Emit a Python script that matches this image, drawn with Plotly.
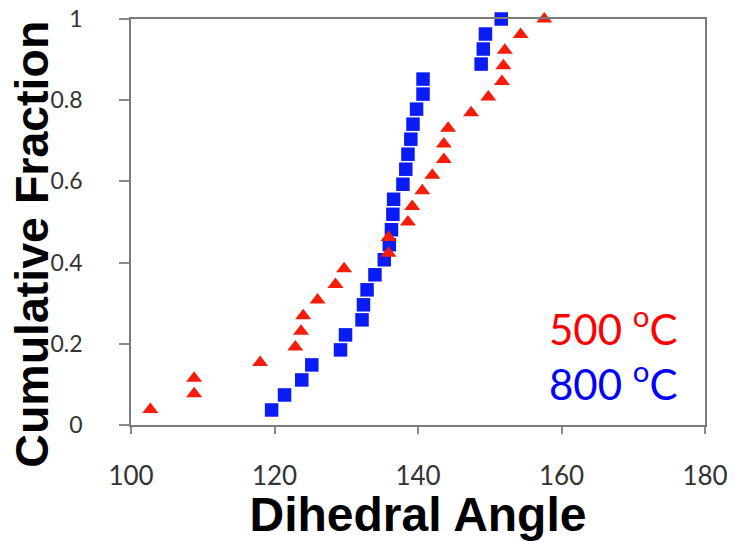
import plotly.graph_objects as go

# ---- data ----
red_angle = [102.7, 108.8, 108.8, 118.0, 122.9, 123.7, 124.0, 126.0, 128.5, 129.7,
             135.9, 135.9, 138.6, 139.2, 140.6, 142.0, 143.6, 143.6, 144.2, 147.4,
             149.8, 151.7, 151.9, 152.1, 154.3, 157.6]
red_frac = [0.038, 0.077, 0.115, 0.154, 0.192, 0.231, 0.269, 0.308, 0.346, 0.385,
            0.423, 0.462, 0.500, 0.538, 0.577, 0.615, 0.654, 0.692, 0.731, 0.769,
            0.808, 0.846, 0.885, 0.923, 0.962, 1.0]

blue_angle = [119.6, 121.4, 123.8, 125.2, 129.2, 129.9, 132.2, 132.4, 132.9, 134.0,
              135.3, 136.0, 136.3, 136.5, 136.6, 137.9, 138.3, 138.6, 139.0, 139.3,
              139.8, 140.7, 140.7, 148.8, 149.1, 149.4, 151.6]
blue_frac = [0.037, 0.074, 0.111, 0.148, 0.185, 0.222, 0.259, 0.296, 0.333, 0.370,
             0.407, 0.444, 0.481, 0.519, 0.556, 0.593, 0.630, 0.667, 0.704, 0.741,
             0.778, 0.815, 0.852, 0.889, 0.926, 0.963, 1.0]

x_ticks = [100, 120, 140, 160, 180]
y_ticks = [0, 0.2, 0.4, 0.6, 0.8, 1]
y_tick_labels = ["0", "0.2", "0.4", "0.6", "0.8", "1"]

label_500 = "500 <sup>o</sup>C"
label_800 = "800 <sup>o</sup>C"
x_title = "Dihedral Angle"
y_title = "Cumulative Fraction"

fig = go.Figure()
fig.add_trace(go.Scatter(
    x=blue_angle, y=blue_frac, mode="markers", name="800 oC",
    marker=dict(symbol="square", size=13.5, color="#0a1cf5", line=dict(width=0)),
    cliponaxis=False))
fig.add_trace(go.Scatter(
    x=red_angle, y=red_frac, mode="markers", name="500 oC",
    marker=dict(symbol="triangle-up", size=14, color="#f51c0a", line=dict(width=0)),
    cliponaxis=False))

fig.update_layout(
    width=734, height=541,
    margin=dict(l=130.5, r=28.5, t=19, b=116, autoexpand=False),
    paper_bgcolor="white", plot_bgcolor="white",
    showlegend=False,
    xaxis=dict(
        range=[100, 180], tickvals=x_ticks, ticks="outside", ticklen=7,
        tickcolor="#8a8a8a", tickwidth=1.5, automargin=False,
        showgrid=False, zeroline=False,
        showline=True, linecolor="#7a7a7a", linewidth=1.5, mirror=True,
        tickfont=dict(family="Lato", size=26, color="#333333"),
        ticklabelstandoff=20,
        title=dict(text=x_title, standoff=8,
                   font=dict(family="Liberation Sans", size=48, color="black", weight="bold")),
    ),
    yaxis=dict(
        range=[0, 1], tickvals=y_ticks, ticktext=y_tick_labels, ticks="outside", ticklen=10,
        tickcolor="#8a8a8a", tickwidth=1.5, automargin=False,
        showgrid=False, zeroline=False,
        showline=True, linecolor="#7a7a7a", linewidth=1.5, mirror=True,
        tickfont=dict(family="Lato", size=23, color="#333333"),
        ticklabelstandoff=32,
    ),
    annotations=[
        dict(text=y_title, textangle=-90, xref="paper", yref="paper",
             x=(31 - 130.5) / 575, y=(425 - 244) / 406, xanchor="center", yanchor="middle",
             showarrow=False,
             font=dict(family="Liberation Sans", size=46.5, color="black", weight="bold")),
        dict(text=label_500, xref="paper", yref="paper",
             x=(680 - 130.5) / 575, y=(425 - 326) / 406, xanchor="right", yanchor="middle",
             showarrow=False, font=dict(family="Lato", size=42, color="#ff0000")),
        dict(text=label_800, xref="paper", yref="paper",
             x=(680 - 130.5) / 575, y=(425 - 381) / 406, xanchor="right", yanchor="middle",
             showarrow=False, font=dict(family="Lato", size=42, color="#0000ff")),
    ],
)

fig.write_html("out.html")
